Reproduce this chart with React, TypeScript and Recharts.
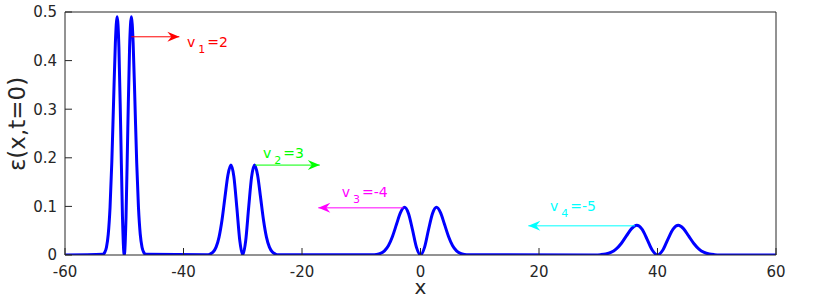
import React from 'react'
import { LineChart, Line, XAxis, YAxis, ReferenceLine, ReferenceDot } from 'recharts'

const FONT = '"DejaVu Sans", sans-serif'
const AXIS = '#262626'

// pulse around x = -50
const pulse1X = [-53.6, -53.3, -53.0, -52.7, -52.4, -52.1, -51.8, -51.5, -51.2, -50.9, -50.6, -50.3, -50, -49.7, -49.4, -49.1, -48.8, -48.5, -48.2, -47.9, -47.6, -47.3, -47.0, -46.7, -46.4]
const pulse1Y = [0.0015, 0.0052, 0.0161, 0.0427, 0.0976, 0.1908, 0.3159, 0.4362, 0.49, 0.4269, 0.2593, 0.0782, 0, 0.0782, 0.2593, 0.4269, 0.49, 0.4362, 0.3159, 0.1908, 0.0976, 0.0427, 0.0161, 0.0052, 0.0015]

// pulse around x = -30
const pulse2X = [-36, -35.5, -35, -34.5, -34, -33.5, -33, -32.5, -32, -31.5, -31, -30.5, -30, -29.5, -29, -28.5, -28, -27.5, -27, -26.5, -26, -25.5, -25, -24.5, -24]
const pulse2Y = [0.0006, 0.002, 0.0061, 0.0161, 0.0368, 0.072, 0.1193, 0.1647, 0.185, 0.1612, 0.0979, 0.0295, 0, 0.0295, 0.0979, 0.1612, 0.185, 0.1647, 0.1193, 0.072, 0.0368, 0.0161, 0.0061, 0.002, 0.0006]

// pulse around x = 0
const pulse3X = [-8.1, -7.43, -6.75, -6.08, -5.4, -4.73, -4.05, -3.38, -2.7, -2.03, -1.35, -0.68, 0, 0.68, 1.35, 2.03, 2.7, 3.38, 4.05, 4.73, 5.4, 6.08, 6.75, 7.43, 8.1]
const pulse3Y = [0.0003, 0.001, 0.0032, 0.0085, 0.0195, 0.0382, 0.0632, 0.0872, 0.098, 0.0854, 0.0519, 0.0156, 0, 0.0156, 0.0519, 0.0854, 0.098, 0.0872, 0.0632, 0.0382, 0.0195, 0.0085, 0.0032, 0.001, 0.0003]

// pulse around x = 40
const pulse4X = [29.5, 30.38, 31.25, 32.13, 33, 33.88, 34.75, 35.63, 36.5, 37.38, 38.25, 39.13, 40, 40.88, 41.75, 42.63, 43.5, 44.38, 45.25, 46.13, 47, 47.88, 48.75, 49.63, 50.5]
const pulse4Y = [0.0002, 0.0007, 0.002, 0.0053, 0.0121, 0.0237, 0.0393, 0.0543, 0.061, 0.0531, 0.0323, 0.0097, 0, 0.0097, 0.0323, 0.0531, 0.061, 0.0543, 0.0393, 0.0237, 0.0121, 0.0053, 0.002, 0.0007, 0.0002]

const xTicks = [-60, -40, -20, 0, 20, 40, 60]
const yTicks = [0, 0.1, 0.2, 0.3, 0.4, 0.5]

// velocity arrows
const arrowSubs = ['1', '2', '3', '4']
const arrowValues = ['=2', '=3', '=-4', '=-5']
const arrowColors = ['#ff0000', '#00ff00', '#ff00ff', '#00ffff']
const arrowStartX = [-48.8, -27.9, -2.9, 36.2]
const arrowEndX = [-40.7, -17, -17.25, 18.2]
const arrowY = [0.449, 0.185, 0.097, 0.06]
const labelX = [-39.4, -26.6, -13.3, 21.85]
const labelY = [0.428, 0.2, 0.12, 0.09]

const toPoints = (xs: number[], ys: number[]) => xs.map((x, i) => ({ x, y: ys[i] }))

const data = [
  { x: -60, y: 0 },
  ...toPoints(pulse1X, pulse1Y),
  ...toPoints(pulse2X, pulse2Y),
  ...toPoints(pulse3X, pulse3Y),
  ...toPoints(pulse4X, pulse4Y),
  { x: 60, y: 0 },
]

const arrowHead = (color: string, dir: number) => (props: any) => {
  const { cx, cy } = props
  const L = 12
  const W = 5
  const N = 8
  const d = `M${cx},${cy} L${cx - dir * L},${cy - W} L${cx - dir * N},${cy} L${cx - dir * L},${cy + W} Z`
  return <path d={d} fill={color} stroke="none" />
}

const velocityLabel = (i: number) => (props: any) => (
  <text x={props.cx} y={props.cy} fill={arrowColors[i]} fontSize={14} fontFamily={FONT}>
    v
    <tspan dx={3} dy={6} fontSize={11}>{arrowSubs[i]}</tspan>
    <tspan dx={2} dy={-6}>{arrowValues[i]}</tspan>
  </text>
)

const tickStyle = { fontSize: 15, fill: AXIS, fontFamily: FONT }

export default function App() {
  return (
    <div style={{ position: 'absolute', left: 0, top: 0, background: '#fff' }}>
      <LineChart width={818} height={298} data={data} margin={{ top: 11, right: 41, bottom: 0, left: 0 }}>
        <XAxis
          dataKey="x"
          type="number"
          domain={[-60, 60]}
          ticks={xTicks}
          interval={0}
          allowDataOverflow
          height={43}
          tickSize={-7}
          tickMargin={18}
          stroke={AXIS}
          tick={tickStyle}
          label={{ value: 'x', position: 'insideBottom', offset: 4, fontSize: 20, fill: AXIS, fontFamily: FONT }}
        />
        <XAxis
          xAxisId="top"
          dataKey="x"
          type="number"
          orientation="top"
          domain={[-60, 60]}
          ticks={xTicks}
          interval={0}
          allowDataOverflow
          height={1}
          tickSize={-7}
          tick={false}
          stroke={AXIS}
        />
        <YAxis
          type="number"
          domain={[0, 0.5]}
          ticks={yTicks}
          interval={0}
          allowDataOverflow
          width={65}
          tickSize={-7}
          tickMargin={15}
          stroke={AXIS}
          tick={tickStyle}
          tickFormatter={(v: number) => String(v)}
          label={{
            content: () => (
              <text
                x={17}
                y={124}
                transform="rotate(-90 17 124)"
                textAnchor="middle"
                dominantBaseline="central"
                fontSize={23}
                fontFamily={FONT}
                fill={AXIS}
              >
                ε(x,t=0)
              </text>
            ),
          }}
        />
        <YAxis
          yAxisId="right"
          orientation="right"
          type="number"
          domain={[0, 0.5]}
          ticks={yTicks}
          interval={0}
          allowDataOverflow
          width={1}
          tickSize={-7}
          tick={false}
          stroke={AXIS}
        />
        <Line
          type="monotone"
          dataKey="y"
          stroke="#0000ff"
          strokeWidth={3}
          dot={false}
          isAnimationActive={false}
        />
        <Line
          xAxisId="top"
          yAxisId="right"
          type="monotone"
          dataKey="y"
          stroke="none"
          dot={false}
          isAnimationActive={false}
        />
        {arrowColors.map((color, i) => (
          <ReferenceLine
            key={`l${i}`}
            segment={[
              { x: arrowStartX[i], y: arrowY[i] },
              { x: arrowEndX[i], y: arrowY[i] },
            ]}
            stroke={color}
            strokeWidth={1}
            ifOverflow="visible"
          />
        ))}
        {arrowColors.map((color, i) => (
          <ReferenceDot
            key={`h${i}`}
            x={arrowEndX[i]}
            y={arrowY[i]}
            r={0}
            ifOverflow="visible"
            shape={arrowHead(color, arrowEndX[i] > arrowStartX[i] ? 1 : -1)}
          />
        ))}
        {arrowColors.map((color, i) => (
          <ReferenceDot
            key={`t${i}`}
            x={labelX[i]}
            y={labelY[i]}
            r={0}
            ifOverflow="visible"
            shape={velocityLabel(i)}
          />
        ))}
      </LineChart>
    </div>
  )
}
